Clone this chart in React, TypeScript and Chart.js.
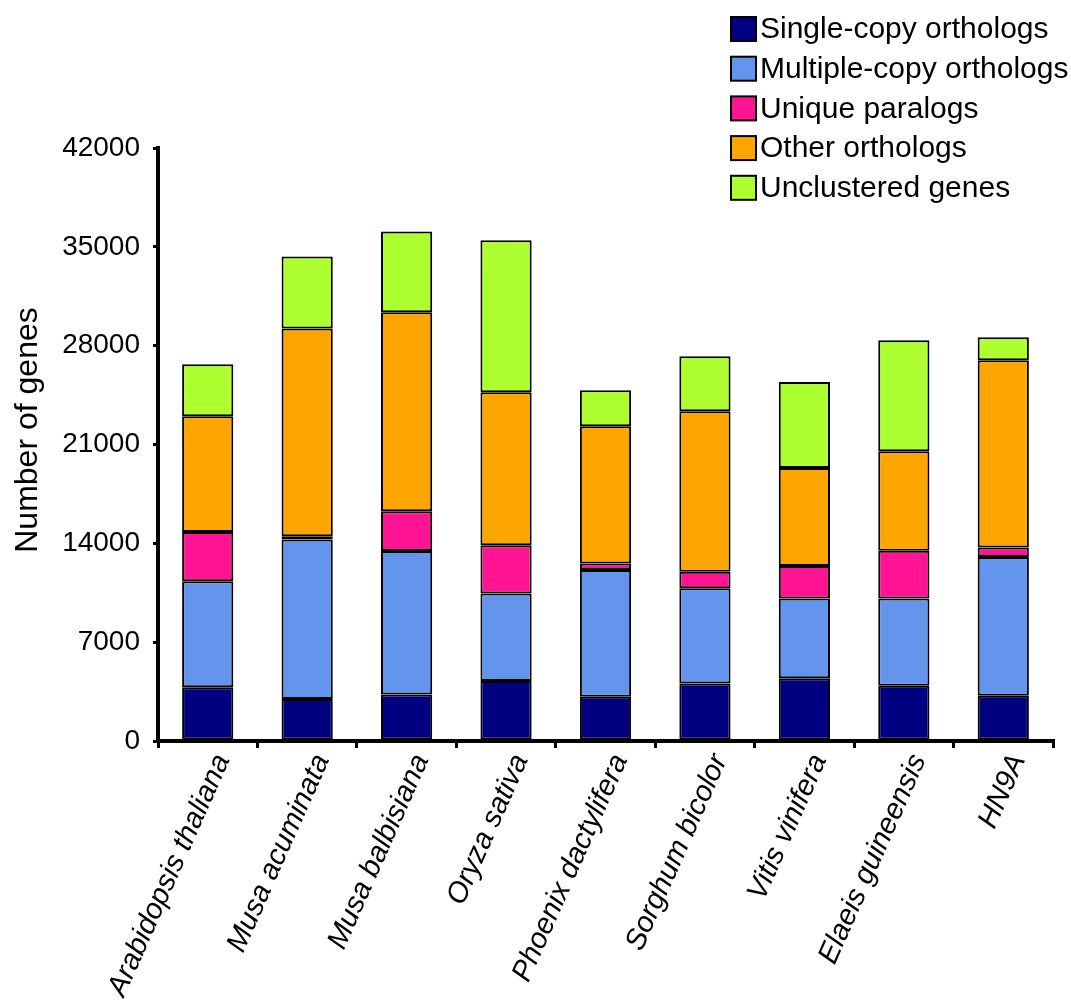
import React, { useEffect, useRef } from "react";
import { Chart, registerables } from "chart.js";

Chart.register(...registerables);

const categories = [
  "Arabidopsis thaliana",
  "Musa acuminata",
  "Musa balbisiana",
  "Oryza sativa",
  "Phoenix dactylifera",
  "Sorghum bicolor",
  "Vitis vinifera",
  "Elaeis guineensis",
  "HN9A",
];

const singleCopy = [3800, 2970, 3300, 4250, 3140, 4080, 4440, 3910, 3210];
const multipleCopy = [7520, 11300, 10150, 6200, 8980, 6730, 5660, 6190, 9830];
const uniqueParalogs = [3490, 230, 2830, 3420, 450, 1175, 2290, 3370, 670];
const otherOrthologs = [8190, 14720, 14080, 10830, 9720, 11370, 6940, 7060, 13250];
const unclustered = [3680, 5100, 5730, 10760, 2550, 3890, 6090, 7850, 1630];

const seriesNames = [
  "Single-copy orthologs",
  "Multiple-copy orthologs",
  "Unique paralogs",
  "Other orthologs",
  "Unclustered genes",
];
const seriesColors = ["#000080", "#6495ED", "#FF1493", "#FFA500", "#ADFF2F"];

const yMin = 0;
const yMax = 42000;
const yStep = 7000;
const yTitle = "Number of genes";

const FONT = "'Liberation Sans', Arial, Helvetica, sans-serif";

const legendPlugin = {
  id: "customLegend",
  afterDraw(chart: any) {
    const ctx = chart.ctx;
    ctx.save();
    ctx.font = `30px ${FONT}`;
    ctx.textBaseline = "middle";
    ctx.textAlign = "left";
    chart.data.datasets.forEach((ds: any, i: number) => {
      const cy = 29 + i * 39.7;
      const bx = 731;
      const bw = 25;
      const bh = 24;
      ctx.fillStyle = ds.backgroundColor;
      ctx.fillRect(bx, cy - bh / 2, bw, bh);
      ctx.lineWidth = 2;
      ctx.strokeStyle = "#000";
      ctx.strokeRect(bx, cy - bh / 2, bw, bh);
      ctx.fillStyle = "#000";
      ctx.fillText(ds.label, 760, cy + 1);
    });
    ctx.restore();
  },
};

const yTitlePlugin = {
  id: "yTitle",
  afterDraw(chart: any) {
    const ctx = chart.ctx;
    ctx.save();
    ctx.font = `32px ${FONT}`;
    ctx.fillStyle = "#000";
    ctx.textAlign = "center";
    ctx.textBaseline = "middle";
    ctx.translate(28, 430);
    ctx.rotate(-Math.PI / 2);
    ctx.fillText(yTitle, 0, 0);
    ctx.restore();
  },
};

export default function App() {
  const canvasRef = useRef<HTMLCanvasElement | null>(null);

  useEffect(() => {
    if (!canvasRef.current) return;
    const values = [singleCopy, multipleCopy, uniqueParalogs, otherOrthologs, unclustered];
    const chart = new Chart(canvasRef.current, {
      type: "bar",
      data: {
        labels: categories,
        datasets: values.map((v, i) => ({
          label: seriesNames[i],
          data: v,
          backgroundColor: seriesColors[i],
          borderColor: "#000",
          borderWidth: 2,
          borderSkipped: false,
          barPercentage: 0.515,
          categoryPercentage: 1,
        })),
      },
      options: {
        animation: false,
        responsive: false,
        maintainAspectRatio: false,
        layout: { padding: { top: 148, right: 18, left: 0, bottom: 0 } },
        plugins: {
          legend: { display: false },
          tooltip: { enabled: false },
        },
        scales: {
          x: {
            stacked: true,
            afterFit(scale: any) {
              scale.height = 262;
            },
            grid: {
              display: true,
              drawOnChartArea: false,
              drawTicks: true,
              tickLength: 7,
              color: "#000",
              lineWidth: 3,
              offset: true,
            },
            border: { display: true, color: "#000", width: 4 },
            ticks: {
              autoSkip: false,
              minRotation: 66,
              maxRotation: 66,
              padding: 1,
              labelOffset: 15,
              color: "#000",
              font: { family: FONT, size: 29, style: "italic" },
            },
          },
          y: {
            stacked: true,
            min: yMin,
            max: yMax,
            afterFit(scale: any) {
              scale.width = 158;
            },
            grid: {
              display: true,
              drawOnChartArea: false,
              drawTicks: true,
              tickLength: 5,
              color: "#000",
              lineWidth: 3,
            },
            border: { display: true, color: "#000", width: 4 },
            ticks: {
              stepSize: yStep,
              padding: 13,
              color: "#000",
              font: { family: FONT, size: 28 },
              callback: (v: any) => String(v),
            },
            title: { display: false },
          },
        },
      },
      plugins: [legendPlugin, yTitlePlugin],
    });
    return () => chart.destroy();
  }, []);

  return (
    <div style={{ position: "fixed", left: 0, top: 0, width: 1071, height: 1003, background: "#fff" }}>
      <canvas ref={canvasRef} width={1071} height={1003} style={{ width: 1071, height: 1003 }} />
    </div>
  );
}
